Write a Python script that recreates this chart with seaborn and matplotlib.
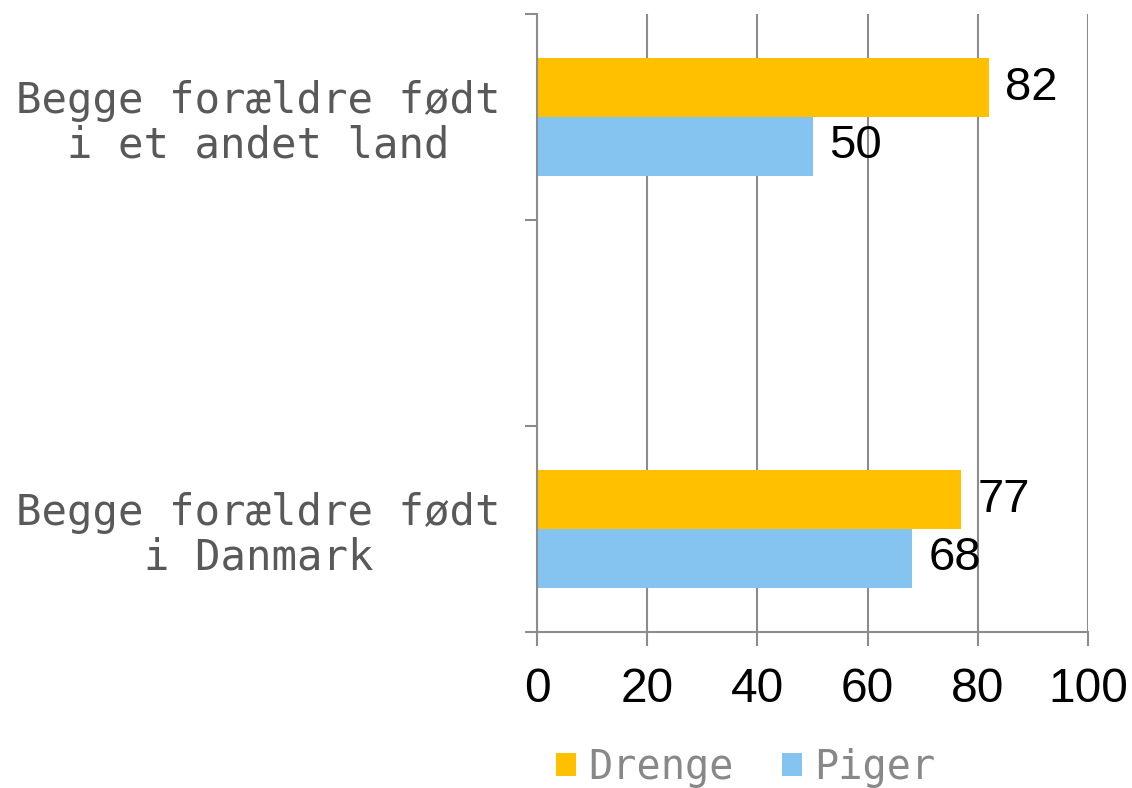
import matplotlib
matplotlib.use("Agg")
import matplotlib.pyplot as plt
import seaborn as sns
import pandas as pd
from matplotlib.patches import Patch

categories = ["Begge forældre født\ni et andet land", "", "Begge forældre født\ni Danmark"]
series_names = ["Drenge", "Piger"]
drenge = [82, 77]
piger = [50, 68]
data_categories = [categories[0], categories[2]]
x_ticks = [0, 20, 40, 60, 80, 100]
colors = ["#FFC000", "#85C4F0"]

rows = []
for c, d, p in zip(data_categories, drenge, piger):
    rows.append({"cat": c, "sex": "Drenge", "val": d})
    rows.append({"cat": c, "sex": "Piger", "val": p})
df = pd.DataFrame(rows)

sns.set_style("white")
plt.rcParams["font.family"] = ["Liberation Sans", "DejaVu Sans"]

fig = plt.figure(figsize=(11.32, 7.88), dpi=100)
ax = fig.add_axes([537/1132, 1 - 632/788, (1088-537)/1132, (632-14)/788])

sns.barplot(data=df, y="cat", x="val", hue="sex", order=categories,
            hue_order=series_names, palette=colors, orient="h", width=0.57,
            saturation=1, ax=ax, legend=False, linewidth=0)

gray = "#8c8c8c"
ax.set_xlim(0, 100)
ax.set_ylim(2.5, -0.5)
ax.set_xticks(x_ticks)
ax.set_xticklabels([str(t) for t in x_ticks])
ax.set_yticks([-0.5, 0.5, 1.5, 2.5])
ax.set_yticklabels([])
ax.set_yticks([0, 1, 2], minor=True)
ax.set_yticklabels(categories, minor=True, family=["DejaVu Sans Mono"],
                   fontsize=30.5, color="#595959", multialignment="center",
                   linespacing=1.08)
ax.tick_params(axis="y", which="minor", left=False, length=0, pad=26)
ax.tick_params(axis="y", which="major", left=True, length=9, width=1.5, color=gray,
               direction="out")
ax.tick_params(axis="x", which="major", bottom=True, length=10, width=1.5, color=gray,
               direction="out", labelsize=34.5, pad=15, labelcolor="black")
ax.set_xlabel("")
ax.set_ylabel("")

ax.grid(axis="x", color=gray, linewidth=1.5)
ax.grid(axis="y", visible=False)
ax.set_axisbelow(True)
for s in ["top", "right"]:
    ax.spines[s].set_visible(False)
for s in ["left", "bottom"]:
    ax.spines[s].set_color(gray)
    ax.spines[s].set_linewidth(1.5)

for cont in ax.containers:
    ax.bar_label(cont, fmt="%d", padding=12, fontsize=34, color="black")

handles = [Patch(facecolor=c, edgecolor="none") for c in colors]
leg = fig.legend(handles, series_names, loc="center", bbox_to_anchor=(0.659, 0.026),
                 ncol=2, frameon=False, handlelength=0.5, handleheight=0.5,
                 handletextpad=0.3, columnspacing=1.2,
                 prop={"family": "DejaVu Sans Mono", "size": 29})
for t in leg.get_texts():
    t.set_color("#888888")

fig.savefig("out.png", dpi=100)
